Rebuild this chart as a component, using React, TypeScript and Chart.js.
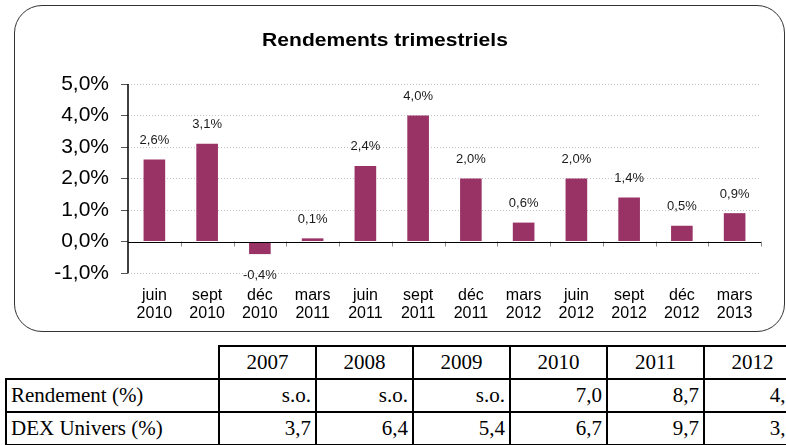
import React, { useEffect, useRef } from "react";
import { Chart, registerables } from "chart.js";

Chart.register(...registerables);

const titleText = "Rendements trimestriels";
const categories: string[][] = [
  ["juin", "2010"], ["sept", "2010"], ["déc", "2010"], ["mars", "2011"],
  ["juin", "2011"], ["sept", "2011"], ["déc", "2011"], ["mars", "2012"],
  ["juin", "2012"], ["sept", "2012"], ["déc", "2012"], ["mars", "2013"],
];
const quarterlyReturns = [2.6, 3.1, -0.4, 0.1, 2.4, 4.0, 2.0, 0.6, 2.0, 1.4, 0.5, 0.9];
const yMin = -1;
const yMax = 5;
const yStep = 1;

const tableYears = ["2007", "2008", "2009", "2010", "2011", "2012"];
const rowLabels = ["Rendement (%)", "DEX Univers (%)"];
const rendementRow = ["s.o.", "s.o.", "s.o.", "7,0", "8,7", "4,6"];
const dexRow = ["3,7", "6,4", "5,4", "6,7", "9,7", "3,6"];

const fmtPct = (v: number) => v.toFixed(1).replace(".", ",") + "%";
const FONT = 'Arial, "Liberation Sans", sans-serif';

const overlayPlugin = {
  id: "overlay",
  afterDatasetsDraw(chart: any) {
    const { ctx, chartArea, scales } = chart;
    const xs = scales.x;
    const ys = scales.y;
    const y0 = ys.getPixelForValue(0);
    ctx.save();
    // category boundary tick marks below zero line
    ctx.strokeStyle = "#8a8a8a";
    ctx.lineWidth = 1;
    for (let i = 1; i <= categories.length; i++) {
      const bx = Math.round(xs.getPixelForValue(i - 0.5)) + 0.5;
      ctx.beginPath();
      ctx.moveTo(bx, y0);
      ctx.lineTo(bx, y0 + 5);
      ctx.stroke();
    }
    // zero line
    ctx.strokeStyle = "#000";
    ctx.lineWidth = 1.2;
    ctx.beginPath();
    ctx.moveTo(chartArea.left, Math.round(y0) + 0.5);
    ctx.lineTo(chartArea.right, Math.round(y0) + 0.5);
    ctx.stroke();
    // y axis line
    ctx.lineWidth = 1.5;
    ctx.beginPath();
    ctx.moveTo(chartArea.left, chartArea.top);
    ctx.lineTo(chartArea.left, chartArea.bottom);
    ctx.stroke();
    // data labels
    const meta = chart.getDatasetMeta(0);
    ctx.fillStyle = "#1a1a1a";
    ctx.font = `13px ${FONT}`;
    ctx.textAlign = "center";
    ctx.textBaseline = "middle";
    meta.data.forEach((bar: any, i: number) => {
      const v = quarterlyReturns[i];
      const ty = v >= 0 ? bar.y - 19 : bar.y + 21;
      ctx.fillText(fmtPct(v), bar.x, ty);
    });
    ctx.restore();
  },
};

function ChartBox() {
  const ref = useRef<HTMLCanvasElement | null>(null);
  useEffect(() => {
    if (!ref.current) return;
    const chart = new Chart(ref.current, {
      type: "bar",
      data: {
        labels: categories,
        datasets: [
          {
            data: quarterlyReturns,
            backgroundColor: "#993366",
            borderWidth: 0,
            barPercentage: 0.41,
            categoryPercentage: 1,
          },
        ],
      },
      options: {
        responsive: false,
        animation: false,
        layout: { padding: { left: 0, top: 78, right: 24, bottom: 0 } },
        plugins: {
          legend: { display: false },
          title: { display: false },
          tooltip: { enabled: false },
        },
        scales: {
          x: {
            grid: { display: false },
            border: { display: false },
            ticks: {
              color: "#000",
              font: { family: FONT, size: 16, lineHeight: 1.15 },
              padding: 5,
              maxRotation: 0,
              autoSkip: false,
            },
            afterFit(scale: any) {
              scale.height = 59;
            },
          },
          y: {
            min: yMin,
            max: yMax,
            ticks: {
              stepSize: yStep,
              color: "#000",
              font: { family: FONT, size: 21 },
              padding: 12,
              callback: (v: any) => fmtPct(Number(v)),
            },
            grid: {
              color: (c: any) => (c.tick && c.tick.value === 0 ? "rgba(0,0,0,0)" : "#c2c2c2"),
              tickColor: "#555",
              tickLength: 7,
              tickBorderDash: [],
              lineWidth: 1,
            },
            border: { display: false, dash: [1, 2] },
            afterFit(scale: any) {
              scale.width = 113;
            },
          },
        },
      },
      plugins: [overlayPlugin],
    });
    return () => chart.destroy();
  }, []);
  return (
    <canvas
      ref={ref}
      width={770}
      height={326}
      style={{ position: "absolute", left: 15, top: 6, width: 770, height: 326 }}
    />
  );
}

const cellBase: React.CSSProperties = {
  border: "2px solid #000",
  padding: "0 4px",
  height: 31,
  fontFamily: '"Times New Roman", "Liberation Serif", serif',
  fontSize: 21,
  lineHeight: "31px",
  whiteSpace: "nowrap",
  overflow: "hidden",
};

export default function App() {
  return (
    <div
      style={{
        position: "absolute",
        left: 0,
        top: 0,
        width: 786,
        height: 445,
        overflow: "hidden",
        background: "#fff",
      }}
    >
      <div
        style={{
          position: "absolute",
          left: 14,
          top: 5,
          width: 771,
          height: 327,
          boxSizing: "border-box",
          border: "1px solid #333",
          borderRadius: 28,
        }}
      />
      <ChartBox />
      <div
        style={{
          position: "absolute",
          left: 0,
          top: 31,
          width: 770,
          textAlign: "center",
          fontFamily: FONT,
          fontWeight: "bold",
          fontSize: 18,
          lineHeight: "18px",
          color: "#000",
          transform: "scaleX(1.17)",
          transformOrigin: "385px 0",
        }}
      >
        {titleText}
      </div>
      <table
        style={{
          position: "absolute",
          left: 5,
          top: 345,
          borderCollapse: "collapse",
          tableLayout: "fixed",
          width: 213 + 97 * tableYears.length,
        }}
      >
        <colgroup>
          <col style={{ width: 213 }} />
          {tableYears.map((y) => (
            <col key={y} style={{ width: 97 }} />
          ))}
        </colgroup>
        <tbody>
          <tr>
            <td style={{ ...cellBase, border: "none", borderBottom: "2px solid #000" }}></td>
            {tableYears.map((y) => (
              <td key={y} style={{ ...cellBase, textAlign: "center" }}>
                {y}
              </td>
            ))}
          </tr>
          <tr>
            <td style={{ ...cellBase, textAlign: "left" }}>{rowLabels[0]}</td>
            {rendementRow.map((v, i) => (
              <td key={i} style={{ ...cellBase, textAlign: "right" }}>
                {v}
              </td>
            ))}
          </tr>
          <tr>
            <td style={{ ...cellBase, textAlign: "left" }}>{rowLabels[1]}</td>
            {dexRow.map((v, i) => (
              <td key={i} style={{ ...cellBase, textAlign: "right" }}>
                {v}
              </td>
            ))}
          </tr>
        </tbody>
      </table>
    </div>
  );
}
